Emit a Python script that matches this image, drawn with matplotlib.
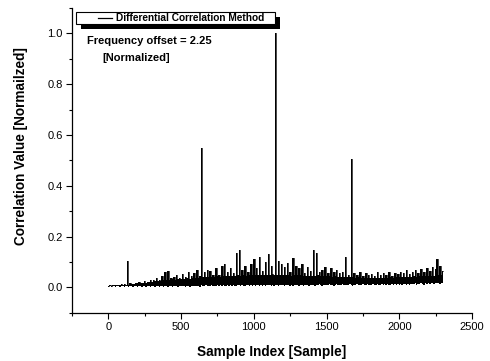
import numpy as np
import matplotlib
matplotlib.use("Agg")
import matplotlib.pyplot as plt
from matplotlib.ticker import MultipleLocator
from matplotlib.patches import Rectangle
from matplotlib.lines import Line2D

plt.rcParams['font.family'] = ['Liberation Sans', 'DejaVu Sans']

sample_index = list(range(0, 2310, 10))
bin_max = [
    0.006, 0.008, 0.007, 0.010, 0.008, 0.009, 0.008, 0.011, 0.009, 0.012,
    0.010, 0.012, 0.011, 0.105, 0.011, 0.015, 0.012, 0.014, 0.013, 0.018,
    0.015, 0.020, 0.016, 0.017, 0.018, 0.024, 0.017, 0.021, 0.019, 0.030,
    0.022, 0.028, 0.024, 0.035, 0.025, 0.030, 0.026, 0.045, 0.028, 0.062,
    0.030, 0.066, 0.029, 0.035, 0.031, 0.040, 0.030, 0.048, 0.032, 0.038,
    0.033, 0.052, 0.034, 0.042, 0.035, 0.060, 0.033, 0.045, 0.036, 0.055,
    0.038, 0.070, 0.037, 0.045, 0.550, 0.040, 0.062, 0.039, 0.070, 0.041,
    0.066, 0.040, 0.050, 0.042, 0.075, 0.043, 0.048, 0.041, 0.085, 0.044,
    0.092, 0.045, 0.060, 0.043, 0.078, 0.046, 0.055, 0.044, 0.135, 0.047,
    0.145, 0.046, 0.070, 0.048, 0.085, 0.045, 0.060, 0.049, 0.090, 0.047,
    0.110, 0.048, 0.075, 0.050, 0.118, 0.047, 0.065, 0.049, 0.100, 0.050,
    0.130, 0.049, 0.085, 0.051, 0.048, 1.000, 0.050, 0.105, 0.048, 0.090,
    0.050, 0.080, 0.047, 0.095, 0.049, 0.060, 0.046, 0.115, 0.048, 0.085,
    0.047, 0.075, 0.049, 0.090, 0.045, 0.058, 0.046, 0.080, 0.044, 0.065,
    0.046, 0.145, 0.045, 0.135, 0.047, 0.062, 0.044, 0.070, 0.045, 0.080,
    0.043, 0.058, 0.045, 0.075, 0.042, 0.060, 0.044, 0.068, 0.041, 0.055,
    0.042, 0.062, 0.040, 0.120, 0.041, 0.050, 0.039, 0.505, 0.040, 0.055,
    0.038, 0.048, 0.039, 0.060, 0.037, 0.045, 0.038, 0.055, 0.036, 0.050,
    0.037, 0.052, 0.036, 0.045, 0.038, 0.060, 0.037, 0.048, 0.036, 0.056,
    0.038, 0.050, 0.037, 0.062, 0.039, 0.046, 0.038, 0.058, 0.040, 0.052,
    0.039, 0.062, 0.041, 0.055, 0.040, 0.070, 0.042, 0.052, 0.041, 0.062,
    0.043, 0.068, 0.042, 0.056, 0.044, 0.072, 0.043, 0.060, 0.045, 0.078,
    0.044, 0.066, 0.046, 0.080, 0.045, 0.072, 0.110, 0.047, 0.082, 0.048,
    0.066,
]
bin_min = [
    0.003, 0.004, 0.003, 0.005, 0.004, 0.003, 0.005, 0.004, 0.003, 0.005,
    0.004, 0.003, 0.005, 0.004, 0.003, 0.005, 0.004, 0.002, 0.005, 0.004,
    0.003, 0.005, 0.004, 0.002, 0.005, 0.004, 0.003, 0.006, 0.004, 0.003,
    0.005, 0.004, 0.002, 0.006, 0.004, 0.003, 0.005, 0.004, 0.002, 0.006,
    0.004, 0.003, 0.006, 0.005, 0.002, 0.006, 0.004, 0.005, 0.003, 0.007,
    0.005, 0.004, 0.007, 0.003, 0.006, 0.005, 0.002, 0.007, 0.005, 0.006,
    0.004, 0.007, 0.006, 0.003, 0.008, 0.006, 0.005, 0.008, 0.004, 0.007,
    0.006, 0.008, 0.005, 0.007, 0.004, 0.008, 0.006, 0.009, 0.005, 0.008,
    0.007, 0.005, 0.009, 0.006, 0.008, 0.004, 0.009, 0.007, 0.006, 0.010,
    0.008, 0.006, 0.010, 0.007, 0.005, 0.009, 0.008, 0.006, 0.010, 0.007,
    0.009, 0.006, 0.010, 0.008, 0.005, 0.009, 0.007, 0.010, 0.006, 0.009,
    0.008, 0.010, 0.006, 0.009, 0.007, 0.010, 0.008, 0.005, 0.010, 0.008,
    0.009, 0.006, 0.010, 0.008, 0.011, 0.007, 0.009, 0.006, 0.010, 0.008,
    0.010, 0.007, 0.009, 0.011, 0.006, 0.010, 0.008, 0.011, 0.007, 0.010,
    0.009, 0.011, 0.007, 0.010, 0.008, 0.012, 0.009, 0.006, 0.011, 0.009,
    0.010, 0.008, 0.012, 0.009, 0.011, 0.007, 0.010, 0.012, 0.008, 0.011,
    0.009, 0.012, 0.010, 0.008, 0.011, 0.009, 0.012, 0.010, 0.007, 0.011,
    0.010, 0.012, 0.009, 0.011, 0.008, 0.012, 0.010, 0.009, 0.012, 0.010,
    0.011, 0.009, 0.012, 0.010, 0.008, 0.012, 0.011, 0.009, 0.013, 0.010,
    0.012, 0.010, 0.013, 0.009, 0.011, 0.013, 0.010, 0.012, 0.008, 0.013,
    0.011, 0.013, 0.010, 0.014, 0.012, 0.009, 0.013, 0.011, 0.014, 0.012,
    0.013, 0.015, 0.011, 0.014, 0.012, 0.016, 0.013, 0.011, 0.015, 0.014,
    0.016, 0.013, 0.017, 0.015, 0.012, 0.017, 0.016, 0.018, 0.014, 0.017,
    0.016,
]

x_ticks = [0, 500, 1000, 1500, 2000, 2500]
y_ticks = [0.0, 0.2, 0.4, 0.6, 0.8, 1.0]
legend_label = "Differential Correlation Method"
annot_lines = ["Frequency offset = 2.25", "[Normalized]"]

W, H = 490, 361
fig = plt.figure(figsize=(W / 100, H / 100), dpi=100)
ax_top, ax_bot, ax_left, ax_right = 8, 312.7, 72, 472
ax = fig.add_axes([ax_left / W, 1 - ax_bot / H, (ax_right - ax_left) / W, (ax_bot - ax_top) / H])

ax.fill_between(sample_index, bin_min, bin_max, step='mid', color='black', linewidth=0)
ax.plot(sample_index, bin_max, color='black', linewidth=0.5, drawstyle='steps-mid')

ax.set_xlim(-250, 2500)
ax.set_ylim(-0.1, 1.1)
ax.set_xticks(x_ticks)
ax.set_yticks(y_ticks)
ax.set_yticklabels([f"{v:.1f}" for v in y_ticks])
ax.xaxis.set_minor_locator(MultipleLocator(250))
ax.yaxis.set_minor_locator(MultipleLocator(0.1))
ax.tick_params(which='major', direction='out', length=4.2, width=0.8, labelsize=8, pad=2.5)
ax.tick_params(which='minor', direction='out', length=2.2, width=0.8)

for s in ['top', 'right']:
    ax.spines[s].set_visible(False)
for s in ['left', 'bottom']:
    ax.spines[s].set_linewidth(0.9)

ax.set_xlabel("Sample Index [Sample]", fontsize=9.8, fontweight='bold')
ax.set_ylabel("Correlation Value [Normailzed]", fontsize=9.8, fontweight='bold')
ax.xaxis.label.set_va('center')
ax.yaxis.label.set_va('center')
ax.xaxis.set_label_coords(0.5, (ax_bot - 351.7) / (ax_bot - ax_top))
ax.yaxis.set_label_coords((20.7 - ax_left) / (ax_right - ax_left), (ax_bot - 146) / (ax_bot - ax_top))


def fx(px):
    return px / W


def fy(py):
    return 1 - py / H


bx0, bx1, by0, by1 = 76, 275, 11.7, 24
sh = 5
fig.add_artist(Rectangle((fx(bx0 + sh), fy(by1 + sh)), fx(bx1 - bx0), (by1 - by0) / H,
                         transform=fig.transFigure, facecolor='black', edgecolor='black',
                         linewidth=0, zorder=5))
fig.add_artist(Rectangle((fx(bx0), fy(by1)), fx(bx1 - bx0), (by1 - by0) / H,
                         transform=fig.transFigure, facecolor='white', edgecolor='black',
                         linewidth=0.8, zorder=6))
ymid = (by0 + by1) / 2
fig.add_artist(Line2D([fx(98), fx(112)], [fy(ymid), fy(ymid)], transform=fig.transFigure,
                      color='black', linewidth=0.9, zorder=7))
fig.text(fx(116), fy(ymid), legend_label, fontsize=7.3, fontweight='bold',
         va='center', ha='left', zorder=7)

fig.text(fx(87), fy(40.7), annot_lines[0], fontsize=8, fontweight='bold',
         va='center', ha='left')
fig.text(fx(102.5), fy(58.3), annot_lines[1], fontsize=8, fontweight='bold',
         va='center', ha='left')

fig.savefig("out.png", dpi=100)
